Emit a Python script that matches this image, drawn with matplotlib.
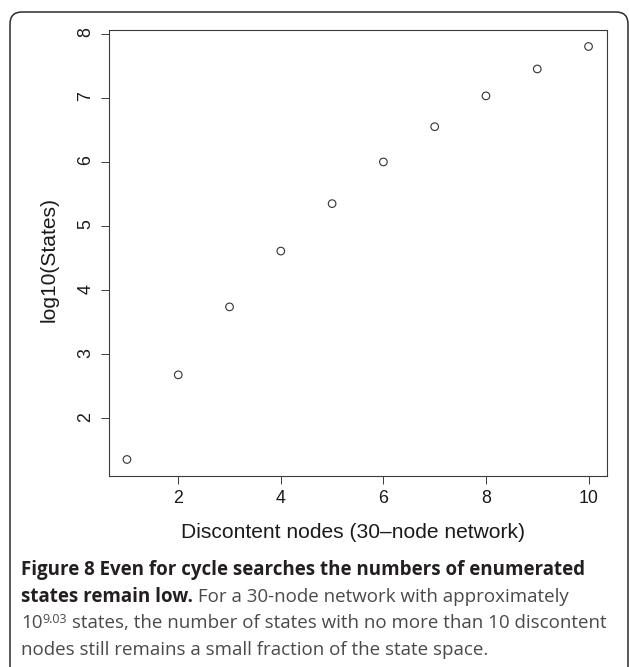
import matplotlib
matplotlib.use("Agg")
import matplotlib.pyplot as plt
from matplotlib.patches import FancyBboxPatch
from matplotlib.transforms import IdentityTransform

# data
discontent_nodes = [1, 2, 3, 4, 5, 6, 7, 8, 9, 10]
log10_states = [1.36, 2.68, 3.74, 4.61, 5.35, 6.00, 6.55, 7.03, 7.45, 7.80]
x_ticks = [2, 4, 6, 8, 10]
y_ticks = [2, 3, 4, 5, 6, 7, 8]

W, H = 629, 667
DPI = 100
fig = plt.figure(figsize=(W / DPI, H / DPI), dpi=DPI)
fig.patch.set_facecolor("white")

# rounded frame round the whole figure (bottom runs off the image)
frame = FancyBboxPatch((10, -20), 618, H - 12 + 20,
                       boxstyle="round,pad=0,rounding_size=12",
                       transform=IdentityTransform(), fill=False,
                       edgecolor="#2b2b2b", linewidth=1.1)
fig.patches.append(frame)

# axes placed like the R plot region
left, right, top, bottom = 108.5, 607, 30, 476
ax = fig.add_axes([left / W, 1 - bottom / H, (right - left) / W, (bottom - top) / H])

ax.scatter(discontent_nodes, log10_states, s=30, facecolors="none",
           edgecolors="#333333", linewidths=0.8, zorder=3)

# R style 4% padding
xr = max(discontent_nodes) - min(discontent_nodes)
yr = max(log10_states) - min(log10_states)
ax.set_xlim(min(discontent_nodes) - 0.04 * xr, max(discontent_nodes) + 0.04 * xr)
ax.set_ylim(min(log10_states) - 0.04 * yr, max(log10_states) + 0.04 * yr)

ax.set_xticks(x_ticks)
ax.set_yticks(y_ticks)
for sp in ax.spines.values():
    sp.set_color("#3a3a3a")
    sp.set_linewidth(0.8)
ax.tick_params(direction="out", length=6, width=0.7, color="#3a3a3a",
               labelsize=12.8, labelcolor="#1a1a1a", labelfontfamily="Liberation Sans")
ax.tick_params(axis="x", pad=4)
ax.tick_params(axis="y", pad=4, labelrotation=90)

fig.text(353 / W, 1 - 532 / H, "Discontent nodes (30\u2013node network)",
         ha="center", va="center", fontsize=15.1, family="Liberation Sans", color="#1a1a1a")
fig.text(49 / W, 1 - 260 / H, "log10(States)", rotation=90,
         ha="center", va="center", fontsize=15.1, family="Liberation Sans", color="#1a1a1a")

# caption, drawn segment by segment
cap_font = "Open Sans"
cap_size = 13.5
bold_col = "#231f20"
norm_col = "#4a4a4a"
renderer = fig.canvas.get_renderer()


def caption_line(y_px, segments, x_px=21):
    x = x_px
    for text, weight, size, dy, col in segments:
        t = fig.text(x / W, 1 - (y_px - dy) / H, text, ha="left", va="baseline",
                     fontsize=size, fontweight=weight, family=cap_font, color=col)
        x += t.get_window_extent(renderer).width


caption_line(575, [("Figure 8 Even for cycle searches the numbers of enumerated", "bold", cap_size, 0, bold_col)])
caption_line(601.7, [("states remain low.", "bold", cap_size, 0, bold_col),
                     (" For a 30-node network with approximately", "normal", cap_size, 0, norm_col)])
caption_line(628.3, [("10", "normal", cap_size, 0, norm_col),
                     ("9.03", "normal", 9, 5.5, norm_col),
                     (" states, the number of states with no more than 10 discontent", "normal", cap_size, 0, norm_col)])
caption_line(655, [("nodes still remains a small fraction of the state space.", "normal", cap_size, 0, norm_col)])

fig.savefig("out.png", dpi=DPI)
